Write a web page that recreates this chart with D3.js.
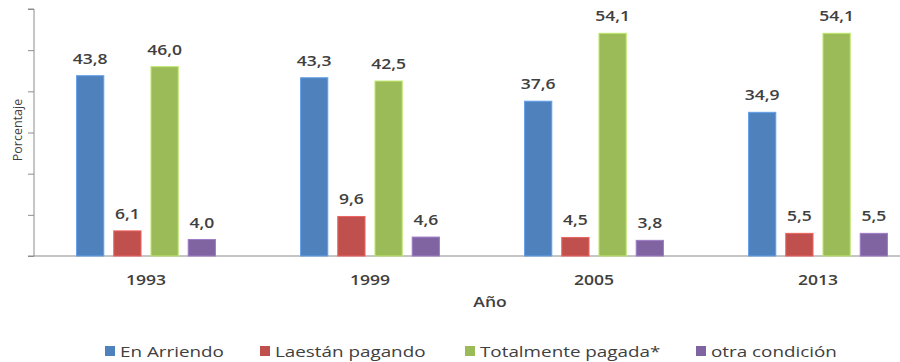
<!DOCTYPE html>
<html>
<head>
<meta charset="utf-8">
<script src="https://cdn.jsdelivr.net/npm/d3@7"></script>
<style>
  html, body { margin: 0; padding: 0; background: #fff; }
  svg { display: block; }
  text { font-family: "Open Sans", "DejaVu Sans", sans-serif; fill: #404040; }
</style>
</head>
<body>
<svg id="chart" width="900" height="362"></svg>
<script>
// Tenencia de la vivienda por año (porcentaje)
const years = ["1993", "1999", "2005", "2013"];
const seriesNames = ["En Arriendo", "Laestán pagando", "Totalmente pagada*", "otra condición"];
const seriesColors = ["#4F81BD", "#C0504D", "#9BBB59", "#8064A2"];
const enArriendo = [43.8, 43.3, 37.6, 34.9];
const laEstanPagando = [6.1, 9.6, 4.5, 5.5];
const totalmentePagada = [46.0, 42.5, 54.1, 54.1];
const otraCondicion = [4.0, 4.6, 3.8, 5.5];
const yTicks = [0, 10, 20, 30, 40, 50, 60];

const seriesValues = [enArriendo, laEstanPagando, totalmentePagada, otraCondicion];

const svg = d3.select("#chart");
const plotLeft = 34, plotTop = 9, plotBottom = 256, plotRight = 930;
const stretch = 1.3; // horizontal widening of the lettering

const x0 = d3.scaleBand().domain(years).range([plotLeft, plotRight])
  .paddingInner(0.38).paddingOuter(0.19);
const x1 = d3.scaleBand().domain(seriesNames).range([0, x0.bandwidth()])
  .paddingInner(0.268).paddingOuter(0);
const y = d3.scaleLinear().domain([0, 60]).range([plotBottom, plotTop]);

// widened text helper
function label(parent, x, yPos, str, size, anchor, weight) {
  const g = parent.append("g").attr("transform", `translate(${x},${yPos}) scale(${stretch},1)`);
  g.append("text").attr("text-anchor", anchor || "middle")
    .style("font-size", size + "px")
    .style("font-weight", weight || 400)
    .text(str);
  return g;
}

// y axis: line and outward ticks, no labels
const yAxis = d3.axisLeft(y).tickValues(yTicks).tickSize(6).tickFormat("");
const ya = svg.append("g").attr("transform", `translate(${plotLeft},0)`).call(yAxis);
ya.selectAll("line").attr("stroke", "#8c8c8c");
ya.select(".domain").attr("stroke", "#8c8c8c").attr("d", `M-6,${plotTop}H0V${plotBottom}H-6`);

// x baseline
svg.append("line").attr("x1", plotLeft).attr("x2", 900).attr("y1", plotBottom).attr("y2", plotBottom)
  .attr("stroke", "#8c8c8c").attr("stroke-width", 1.2);

// bars and value labels
const groups = svg.append("g").selectAll("g").data(years).join("g")
  .attr("transform", d => `translate(${x0(d)},0)`);

years.forEach((yr, i) => {
  const g = groups.filter(d => d === yr);
  seriesNames.forEach((s, j) => {
    const v = seriesValues[j][i];
    g.append("rect")
      .attr("x", x1(s))
      .attr("y", y(v))
      .attr("width", x1.bandwidth())
      .attr("height", y(0) - y(v))
      .attr("fill", seriesColors[j])
      .attr("stroke", d3.color(seriesColors[j]).brighter(0.6))
      .attr("stroke-width", 1);
    label(g, x1(s) + x1.bandwidth() / 2, y(v) - 12, d3.format(".1f")(v).replace(".", ","), 13.5, "middle", 600);
  });
});

// category labels
years.forEach(yr => {
  label(svg, x0(yr) + x0.bandwidth() / 2, 285, yr, 13.5, "middle", 600);
});

// axis titles
label(svg, 490, 307, "Año", 13.5, "middle", 600);
svg.append("text")
  .attr("transform", "translate(22,130) rotate(-90)")
  .attr("text-anchor", "middle")
  .style("font-size", "12.5px")
  .text("Porcentaje");

// legend
const legendX = [105, 260, 465, 696];
seriesNames.forEach((s, j) => {
  svg.append("rect").attr("x", legendX[j]).attr("y", 346).attr("width", 10).attr("height", 10)
    .attr("fill", seriesColors[j]);
  label(svg, legendX[j] + 15, 357, s, 14.5, "start", 400);
});
</script>
</body>
</html>
